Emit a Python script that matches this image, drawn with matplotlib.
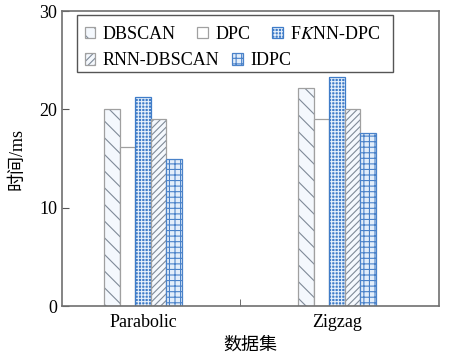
import matplotlib.pyplot as plt
import numpy as np

plt.rcParams['font.family'] = ['Liberation Serif', 'Noto Sans CJK SC']
plt.rcParams['mathtext.fontset'] = 'stix'
plt.rcParams['hatch.linewidth'] = 0.8

datasets = ["Parabolic", "Zigzag"]
methods = ["DBSCAN", "DPC", "F$K$NN-DPC", "RNN-DBSCAN", "IDPC"]
dbscan = [20.0, 22.2]
dpc = [16.2, 19.0]
fknn_dpc = [21.3, 23.3]
rnn_dbscan = [19.0, 20.0]
idpc = [15.0, 17.6]

values = [dbscan, dpc, fknn_dpc, rnn_dbscan, idpc]

# (face, hatch, hatch colour, border colour)
styles = [
    ("#f4f8fd", "\\\\", "#7f8a98", "#a0a0a0"),
    ("white", "", "#c8d8ee", "#a0a0a0"),
    ("#3f7cc8", "+++++", "#e6f0fb", "#3f7cc8"),
    ("#f4f8fd", "/////", "#7f8a98", "#a0a0a0"),
    ("#e3eefa", "+++", "#4a82c9", "#4a82c9"),
]

fig = plt.figure(figsize=(4.5, 3.56), dpi=100)
ax = fig.add_axes([0.138, 0.140, 0.838, 0.829])

x = np.arange(len(datasets))
width = 0.08
handles = []
for i, (vals, st) in enumerate(zip(values, styles)):
    face, hatch, hcol, bcol = st
    pos = x + (i - 2) * width
    h1 = ax.bar(pos, vals, width, color=face, hatch=hatch, edgecolor=hcol, linewidth=0)
    h2 = ax.bar(pos, vals, width, fill=False, edgecolor=bcol, linewidth=0.9)
    handles.append((h1[0], h2[0]))

ax.set_xlim(-0.418, 1.526)
ax.set_ylim(0, 30)
ax.set_yticks([0, 10, 20, 30])
ax.set_xticks(x)
ax.set_xticklabels(datasets)
ax.set_xticks([0.5], minor=True)
ax.tick_params(axis='x', which='major', length=0, labelsize=13, pad=6)
ax.tick_params(axis='x', which='minor', direction='in', length=5, color='#555555')
ax.tick_params(axis='y', direction='in', length=5, labelsize=13, color='#555555')
for s in ax.spines.values():
    s.set_color('#707070')
    s.set_linewidth(1.2)

ax.set_ylabel("时间/ms", fontsize=13, labelpad=10)
ax.set_xlabel("数据集", fontsize=13, labelpad=4)

# legend frame drawn by hand, two rows of entries
frame = plt.Rectangle((0.04, 0.793), 0.838, 0.193, transform=ax.transAxes,
                      fill=False, edgecolor='#555555', linewidth=1.0, zorder=5)
ax.add_patch(frame)
leg1 = ax.legend(handles[:3], methods[:3], ncol=3, loc='upper left',
                 bbox_to_anchor=(0.05, 0.962), frameon=False, fontsize=13,
                 handlelength=0.6, handleheight=0.6, handletextpad=0.4,
                 columnspacing=1.2, borderaxespad=0, borderpad=0.2)
ax.add_artist(leg1)
ax.legend(handles[3:], methods[3:], ncol=2, loc='upper left',
          bbox_to_anchor=(0.05, 0.872), frameon=False, fontsize=13,
          handlelength=0.6, handleheight=0.6, handletextpad=0.4,
          columnspacing=0.7, borderaxespad=0, borderpad=0.2)

fig.savefig("out.png", dpi=100)
